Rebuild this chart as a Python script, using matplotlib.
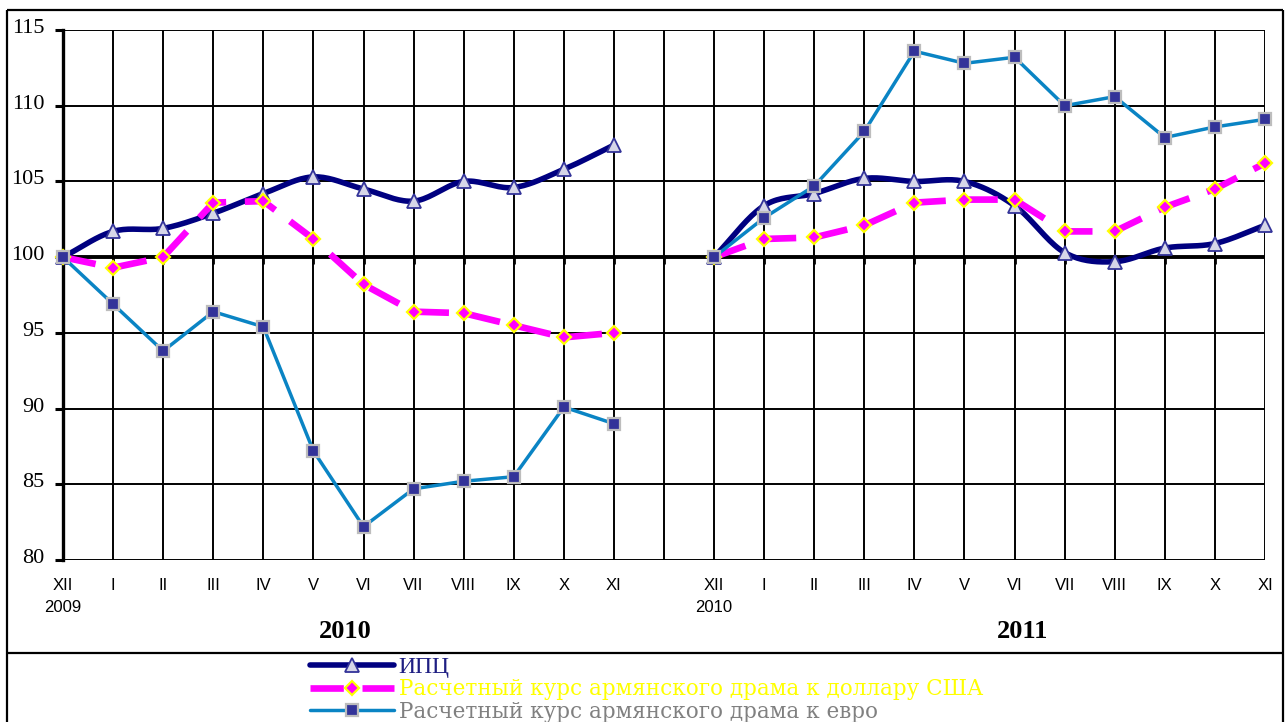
import numpy as np
import matplotlib
matplotlib.use('Agg')
import matplotlib.pyplot as plt
from matplotlib.lines import Line2D
import matplotlib.transforms as mtrans

# ---------------- data ----------------
months = ['XII', 'I', 'II', 'III', 'IV', 'V', 'VI', 'VII', 'VIII', 'IX', 'X', 'XI']
start_years = ['2009', '2010']
period_years = ['2010', '2011']

cpi_p1 = [100, 101.7, 101.9, 102.9, 104.2, 105.3, 104.5, 103.7, 105.0, 104.6, 105.8, 107.4]
cpi_p2 = [100, 103.4, 104.2, 105.2, 105.0, 105.0, 103.4, 100.3, 99.7, 100.6, 100.9, 102.1]

usd_p1 = [100, 99.3, 100.0, 103.6, 103.7, 101.2, 98.2, 96.4, 96.3, 95.5, 94.7, 95.0]
usd_p2 = [100, 101.2, 101.3, 102.1, 103.6, 103.8, 103.8, 101.7, 101.7, 103.3, 104.5, 106.2]

eur_p1 = [100, 96.9, 93.8, 96.4, 95.4, 87.2, 82.2, 84.7, 85.2, 85.5, 90.1, 89.0]
eur_p2 = [100, 102.6, 104.7, 108.3, 113.6, 112.8, 113.2, 110.0, 110.6, 107.9, 108.6, 109.1]

labels = ['ИПЦ',
          'Расчетный курс армянского драма к доллару США',
          'Расчетный курс армянского драма к евро']

# ---------------- helpers ----------------
W, H = 1286, 722
YSCALE = 15.14 / 50.08  # pixel aspect of one y unit vs one x unit


def smooth(x, y, n=20):
    P = np.column_stack([np.asarray(x, float), np.asarray(y, float) * YSCALE])
    Pe = np.vstack([2 * P[0] - P[1], P, 2 * P[-1] - P[-2]])
    out = []
    for i in range(len(P) - 1):
        p0, p1, p2, p3 = Pe[i], Pe[i + 1], Pe[i + 2], Pe[i + 3]
        t = np.linspace(0, 1, n, endpoint=(i == len(P) - 2))[:, None]
        pts = 0.5 * (2 * p1 + (-p0 + p2) * t + (2 * p0 - 5 * p1 + 4 * p2 - p3) * t ** 2
                     + (-p0 + 3 * p1 - 3 * p2 + p3) * t ** 3)
        out.append(pts)
    out = np.vstack(out)
    return out[:, 0], out[:, 1] / YSCALE


fig = plt.figure(figsize=(W / 100, H / 100), dpi=100)
fig.patch.set_facecolor('white')

# overlay for frame
ov = fig.add_axes([0, 0, 1, 1])
ov.set_xlim(0, W)
ov.set_ylim(H, 0)
ov.axis('off')
ov.patch.set_alpha(0)
fk = dict(color='black', lw=1.6, solid_capstyle='butt')
ov.plot([7, 7], [10, H], **fk)
ov.plot([7, 1283], [10, 10], **fk)
ov.plot([1283, 1283], [10, H], **fk)
ov.plot([7, 1283], [653, 653], **fk)

ax = fig.add_axes([63 / W, 1 - 560 / H, (1265 - 63) / W, (560 - 30) / H])
ax.set_xlim(0, 24)
ax.set_ylim(80, 115)
ax.patch.set_alpha(0)
for s in ['top', 'right', 'bottom']:
    ax.spines[s].set_visible(False)
ax.spines['left'].set_linewidth(2.4)
ax.spines['left'].set_zorder(2)

npos = 25
ax.vlines(np.arange(npos), 80, 115, color='black', lw=1.4, zorder=1)
yt = np.arange(80, 116, 5)
ax.hlines(yt, 0, 24, color='black', lw=1.4, zorder=1)
ax.hlines(100, 0, 24, color='black', lw=2.8, zorder=2)
ax.vlines(np.arange(npos), 99.55, 100, color='black', lw=2.0, zorder=2)

ax.set_yticks(yt)
ax.set_yticklabels([str(v) for v in yt], family='Liberation Serif', fontsize=16)
ax.tick_params(axis='y', length=6, width=2.2, pad=7.5, direction='out')
ax.set_xticks([])
for lbl in ax.get_yticklabels():
    lbl.set_transform(lbl.get_transform() +
                      mtrans.ScaledTranslation(0, 4 / 100, fig.dpi_scale_trans))

x1 = np.arange(12)
x2 = np.arange(13, 25)

trans = mtrans.blended_transform_factory(ax.transData, fig.transFigure)
for xs in (x1, x2):
    for xi, m in zip(xs, months):
        ax.text(xi, 1 - 585 / H, m, transform=trans, ha='center', va='center',
                family='Liberation Sans', fontsize=12)
for xi, yv in zip((x1[0], x2[0]), start_years):
    ax.text(xi, 1 - 607 / H, yv, transform=trans, ha='center', va='center',
            family='Liberation Sans', fontsize=12)
for xi, yv in zip((5.63, 19.15), period_years):
    ax.text(xi, 1 - 632 / H, yv, transform=trans, ha='center', va='center',
            family='Liberation Serif', fontsize=19, fontweight='bold')

# styles
cpi_col = '#000080'
usd_col = '#FF00FF'
eur_col = '#0A84C4'
usd_dash = (5.0, 2.8)
cpi_m = dict(marker='^', ms=10, mfc='#D6D6E8', mec='#333399', mew=1.3)
usd_m = dict(marker='D', ms=7.5, mfc='#FF00FF', mec='#FFFF00', mew=1.6)
eur_m = dict(marker='s', ms=8.5, mfc='#333399', mec='#BDBDBD', mew=1.6)

for xs, ys in ((x1, cpi_p1), (x2, cpi_p2)):
    sx, sy = smooth(xs, ys)
    ax.plot(sx, sy, color=cpi_col, lw=4.0, solid_capstyle='round', zorder=3, clip_on=False)
    ax.plot(xs, ys, ls='none', zorder=4, clip_on=False, **cpi_m)

for xs, ys in ((x1, usd_p1), (x2, usd_p2)):
    ax.plot(xs, ys, color=usd_col, lw=4.8, dashes=usd_dash, zorder=5, clip_on=False)
    ax.plot(xs, ys, ls='none', zorder=6, clip_on=False, **usd_m)

for xs, ys in ((x1, eur_p1), (x2, eur_p2)):
    ax.plot(xs, ys, color=eur_col, lw=2.5, zorder=7, clip_on=False)
    ax.plot(xs, ys, ls='none', zorder=8, clip_on=False, **eur_m)

handles = [Line2D([], [], color=cpi_col, lw=4.0, solid_capstyle='round', **cpi_m),
           Line2D([], [], color=usd_col, lw=4.8, dashes=usd_dash, **usd_m),
           Line2D([], [], color=eur_col, lw=2.5, solid_capstyle='round', **eur_m)]
leg = fig.legend(handles, labels, loc='upper left', bbox_to_anchor=(310 / W, 1 - 657 / H),
                 frameon=False, handlelength=3.9, handletextpad=0.22, labelspacing=0.02,
                 borderpad=0, borderaxespad=0, numpoints=1,
                 prop=dict(family='DejaVu Serif', size=15.5),
                 labelcolor=['#1E1E82', '#FFFF00', '#808080'])
leg.get_texts()[0].set_fontsize(17)
leg.get_texts()[0].set_family('Liberation Serif')

fig.savefig('out.png', dpi=100, facecolor='white')
